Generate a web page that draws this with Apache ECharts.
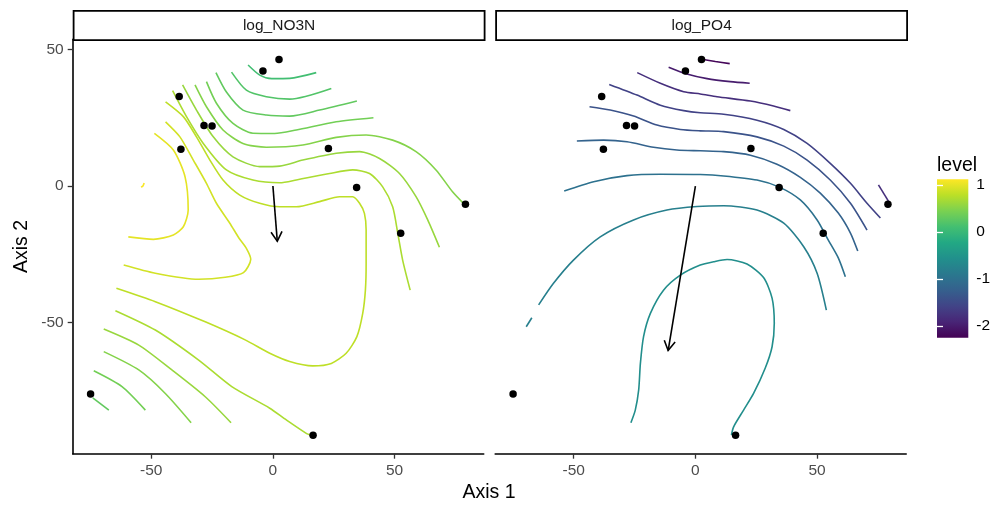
<!DOCTYPE html>
<html><head><meta charset="utf-8">
<script src="https://cdn.jsdelivr.net/npm/echarts@6/dist/echarts.min.js"></script>
<style>html,body{margin:0;padding:0;background:#fff}#c{width:1005px;height:506px}</style>
</head><body><div id="c"></div>
<script>
// ---------- data ----------
const panelNames = ['log_NO3N', 'log_PO4'];
const axisTickValues = [-50, 0, 50];
const levelTickValues = [-2, -1, 0, 1];
const levelRange = [-2.25, 1.12];
const xRange = [-82.25, 86.6];
const yRange = [-97.95, 53.7];

const sitePoints = [[2.5,46.3],[-4.1,42.1],[-38.5,32.8],[-28.3,22.2],[-25.0,22.0],[-37.8,13.5],
  [22.8,13.7],[34.4,-0.5],[79.1,-6.7],[52.5,-17.3],[-74.9,-76.1],[16.5,-91.2]];

const arrowNO3N = [0, 0, 1.8, -20.2];
const arrowPO4 = [0, 0, -11.2, -60.2];

// log_NO3N contour lines
const no3nA = [[-10.2,44.3],[-5.4,40.6],[-0.5,39.3],[6.9,39.4],[17.8,41.5]];
const no3nB = [[-17.0,41.7],[-10.9,35.1],[-2.7,32.7],[6.9,31.8],[24.0,35.7]];
const no3nC = [[-23.4,41.5],[-19.1,34.4],[-12.3,27.8],[-2.7,26.0],[6.9,25.6],[19.2,27.8],[34.5,31.1]];
const no3nD = [[-27.3,38.2],[-23.2,30.3],[-16.4,22.9],[-8.2,19.3],[0.7,19.2],[9.6,20.5],[26.0,23.5],[41.3,25.0]];
const no3nE = [[-32.0,37.0],[-27.3,29.0],[-20.5,20.5],[-12.3,15.6],[-2.7,14.2],[12.3,15.0],[26.0,17.8],[38.3,18.7],[49.2,16.8],[58.8,12.6],[67.0,5.9],[73.8,-2.1],[79.0,-7.0]];
const no3nF = [[-37.1,37.0],[-31.4,27.8],[-24.5,18.0],[-16.4,10.7],[-5.4,7.1],[2.8,7.3],[12.3,9.5],[26.0,12.0],[35.6,12.6],[43.8,10.1],[52.0,4.6],[58.8,-3.9],[63.6,-12.4],[68.4,-22.4]];
const no3nG = [[-41.2,34.9],[-35.5,25.4],[-28.6,15.6],[-19.1,5.9],[-8.2,2.2],[2.8,1.2],[9.6,2.2],[23.3,4.6],[32.8,5.9],[39.7,4.6],[45.1,-0.3],[49.2,-7.6],[51.3,-17.3],[53.3,-27.1],[56.4,-38.1]];
const no3nH = [[-44.1,30.8],[-36.8,25.4],[-31.4,18.0],[-25.9,9.5],[-20.5,2.2],[-13.6,-3.3],[-5.4,-6.3],[2.8,-7.6],[9.6,-7.6],[19.2,-5.7],[27.4,-3.9],[32.8,-3.9],[35.6,-6.3],[37.6,-10.0],[38.3,-16.1],[38.3,-28.3],[38.0,-38.1],[36.9,-46.6],[34.5,-55.1],[30.1,-61.2],[24.0,-64.9],[16.4,-65.8],[6.9,-64.2],[-1.3,-61.2],[-11.4,-56.3],[-27.8,-49.7],[-48.3,-42.3],[-64.3,-37.4]];
const no3nI = [[-44.1,23.5],[-38.2,18.0],[-32.7,9.5],[-27.3,1.0],[-23.2,-6.3],[-17.7,-13.6],[-13.9,-19.1],[-10.9,-22.8],[-9.1,-26.8],[-12.1,-31.7],[-19.6,-33.4],[-30.5,-34.1],[-48.3,-31.9],[-61.3,-28.9]];
const no3nJ = [[-48.7,19.3],[-40.9,13.2],[-36.1,3.4],[-34.8,-8.8],[-36.8,-14.9],[-40.9,-17.9],[-49.1,-19.5],[-59.4,-18.6]];
const no3nK = [[-54.2,-0.4],[-53.4,0.0],[-52.9,1.1]];
const no3nL1 = [[-64.7,-45.6],[-48.3,-52.7],[-30.5,-63.7],[-16.9,-73.4],[-1.3,-81.3],[5.5,-85.6],[13.7,-90.5],[16.4,-91.4]];
const no3nL2 = [[-69.5,-52.3],[-55.1,-58.2],[-41.5,-67.3],[-27.8,-77.1],[-17.2,-86.6]];
const no3nL3 = [[-69.5,-60.6],[-55.1,-67.3],[-44.2,-75.9],[-33.6,-86.6]];
const no3nL4 = [[-73.6,-67.6],[-62.0,-73.4],[-52.4,-82.0]];
const no3nL5 = [[-74.0,-77.5],[-67.4,-82.0]];
const no3nLines = [no3nA,no3nB,no3nC,no3nD,no3nE,no3nF,no3nG,no3nH,no3nI,no3nJ,no3nK,no3nL1,no3nL2,no3nL3,no3nL4,no3nL5];
const no3nLevels = [0.1,0.2,0.3,0.4,0.5,0.6,0.7,0.8,0.9,1.0,1.1,0.7,0.6,0.5,0.4,0.3];

// log_PO4 contour lines
const po4P1 = [[2.7,46.4],[8.2,45.6],[14.1,44.8]];
const po4P2 = [[-11.0,43.5],[-3.5,41.0],[4.8,39.3],[14.3,38.2],[22.3,37.6]];
const po4P3 = [[-23.9,41.5],[-14.4,37.6],[-4.8,34.5],[2.0,33.7],[8.9,32.7],[22.6,31.1],[32.1,29.3],[39.0,27.6]];
const po4P0 = [[75.2,0.4],[79.3,-5.5]];
const po4P4 = [[-35.4,37.2],[-24.0,33.3],[-14.4,29.6],[-4.8,27.6],[2.0,26.8],[11.6,26.3],[25.3,24.1],[36.3,20.7],[45.9,15.6],[55.4,8.3],[63.7,1.0],[70.5,-6.3],[76.0,-11.7]];
const po4P5 = [[-43.5,29.0],[-35.0,27.8],[-25.4,25.6],[-15.8,22.3],[-6.2,20.7],[2.0,20.2],[11.6,19.9],[25.3,18.0],[36.3,14.6],[45.9,9.5],[55.4,2.2],[63.7,-6.3],[70.5,-16.1]];
const po4P6 = [[-48.7,16.5],[-37.7,16.8],[-28.1,16.2],[-17.2,14.2],[-7.6,13.2],[2.0,12.9],[11.6,12.6],[22.6,11.3],[33.5,8.0],[43.1,3.2],[51.3,-2.6],[58.7,-9.9],[63.7,-17.2],[66.7,-23.8]];
const po4P7 = [[-53.9,-1.8],[-41.8,1.6],[-28.1,3.8],[-14.4,4.3],[2.0,4.2],[11.6,3.7],[25.3,2.2],[34.5,-0.4],[43.1,-5.1],[50.0,-12.4],[54.6,-19.8],[58.7,-26.3],[61.6,-33.2]];
const po4P8a = [[-69.5,-51.5],[-67.2,-48.2]];
const po4P8 = [[-64.4,-43.5],[-58.3,-35.6],[-50.1,-27.1],[-39.1,-18.6],[-25.4,-12.4],[-11.7,-8.8],[0.7,-7.5],[11.6,-7.2],[25.3,-8.8],[36.3,-13.6],[44.5,-22.2],[50.0,-31.9],[53.8,-45.4]];
const po4P9 = [[-26.5,-86.6],[-24.7,-82.0],[-23.3,-74.6],[-22.6,-64.9],[-21.3,-55.1],[-18.5,-46.6],[-13.1,-38.1],[-6.2,-32.6],[2.0,-28.9],[7.5,-27.7],[13.0,-26.9],[21.2,-28.5],[28.0,-33.5],[31.5,-41.0],[32.4,-50.2],[31.5,-58.8],[28.7,-66.6],[23.9,-75.9],[19.8,-82.0],[15.7,-88.1],[14.8,-91.1]];
const po4Lines = [po4P1,po4P2,po4P3,po4P0,po4P4,po4P5,po4P6,po4P7,po4P8a,po4P8,po4P9];
const po4Levels = [-2.2,-2.0,-1.8,-1.8,-1.6,-1.4,-1.2,-1.0,-0.8,-0.8,-0.6];

// ---------- styling helpers ----------
const viridisStops = ['#440154','#482576','#414487','#35608d','#2a788e','#21908c','#22a884','#43bf71','#7ad151','#bbdf27','#fde725'];
function hex2rgb(h){return [parseInt(h.slice(1,3),16),parseInt(h.slice(3,5),16),parseInt(h.slice(5,7),16)];}
function viridis(t){
  t = Math.max(0, Math.min(1, t));
  const s = t*(viridisStops.length-1), i = Math.min(Math.floor(s), viridisStops.length-2), f = s-i;
  const a = hex2rgb(viridisStops[i]), b = hex2rgb(viridisStops[i+1]);
  return 'rgb(' + a.map((v,k)=>Math.round(v+(b[k]-v)*f)).join(',') + ')';
}
function levelColor(l){ return viridis((l-levelRange[0])/(levelRange[1]-levelRange[0])); }

const FONT = '"Liberation Sans", Arial, Helvetica, sans-serif';
const panelW = 411, panelTop = 39.3, panelH = 414.4;
const panelLeft = [72.7, 495.2];

function contourSeries(lines, levels, idx){
  return lines.map((pts, k) => ({
    type: 'line', xAxisIndex: idx, yAxisIndex: idx, data: pts,
    showSymbol: false, symbol: 'none', smooth: 0.25, silent: true, z: 2,
    lineStyle: {color: levelColor(levels[k]), width: 1.6}
  }));
}

function renderArrow(params, api){
  const p0 = api.coord([api.value(0), api.value(1)]);
  const p1 = api.coord([api.value(2), api.value(3)]);
  const ang = Math.atan2(p1[1]-p0[1], p1[0]-p0[0]);
  const L = 11, a = Math.PI/6;
  const w1 = [p1[0]-L*Math.cos(ang-a), p1[1]-L*Math.sin(ang-a)];
  const w2 = [p1[0]-L*Math.cos(ang+a), p1[1]-L*Math.sin(ang+a)];
  return {type:'group', children:[
    {type:'polyline', shape:{points:[p0,p1]}, style:{stroke:'#000', lineWidth:1.6, fill:null}},
    {type:'polyline', shape:{points:[w1,p1,w2]}, style:{stroke:'#000', lineWidth:1.6, fill:null}}
  ]};
}

const chart = echarts.init(document.getElementById('c'), null, {renderer:'canvas'});

const gradStops = [];
for (let i=0;i<=20;i++){ gradStops.push({offset: i/20, color: viridis(1 - i/20)}); }

const xAxisBase = (gi) => ({
  type:'value', gridIndex: gi, min: xRange[0], max: xRange[1],
  axisLine:{show:true, onZero:false, lineStyle:{color:'#000', width:1.6}},
  axisTick:{show:true, length:5, customValues: axisTickValues, lineStyle:{color:'#333', width:1.3}},
  axisLabel:{customValues: axisTickValues, margin:9, color:'#4d4d4d', fontSize:15.5, fontFamily: FONT},
  splitLine:{show:false}
});

const option = {
  animation: false,
  backgroundColor: '#fff',
  grid: [
    {left: panelLeft[0], top: panelTop, width: panelW, height: panelH},
    {left: panelLeft[1], top: panelTop, width: panelW, height: panelH},
    {left: 937, top: 179.3, width: 31.3, height: 158.4, show: true, borderWidth: 0,
     backgroundColor: new echarts.graphic.LinearGradient(0,0,0,1, gradStops)}
  ],
  xAxis: [ xAxisBase(0), xAxisBase(1),
    {type:'value', gridIndex:2, min:0, max:1, show:false}
  ],
  yAxis: [
    {type:'value', gridIndex:0, min:yRange[0], max:yRange[1],
     axisLine:{show:true, onZero:false, lineStyle:{color:'#000', width:1.6}},
     axisTick:{show:true, length:5, customValues: axisTickValues, lineStyle:{color:'#333', width:1.3}},
     axisLabel:{customValues: axisTickValues, margin:9, color:'#4d4d4d', fontSize:15.5, fontFamily: FONT},
     splitLine:{show:false}},
    {type:'value', gridIndex:1, min:yRange[0], max:yRange[1], show:false},
    {type:'value', gridIndex:2, min:levelRange[0], max:levelRange[1], position:'right',
     axisLine:{show:false},
     axisTick:{show:true, inside:true, length:6, customValues: levelTickValues, lineStyle:{color:'#fff', width:1.3}},
     axisLabel:{customValues: levelTickValues, margin:8, color:'#000', fontSize:15.5, fontFamily: FONT},
     splitLine:{show:false}},
    {type:'value', gridIndex:2, min:levelRange[0], max:levelRange[1], position:'left',
     axisLine:{show:false},
     axisTick:{show:true, inside:true, length:6, customValues: levelTickValues, lineStyle:{color:'#fff', width:1.3}},
     axisLabel:{show:false}, splitLine:{show:false}}
  ],
  series: [
    ...contourSeries(no3nLines, no3nLevels, 0),
    ...contourSeries(po4Lines, po4Levels, 1),
    {type:'custom', xAxisIndex:0, yAxisIndex:0, renderItem: renderArrow, data:[arrowNO3N], silent:true, z:3,
     encode:{x:[0,2], y:[1,3]}},
    {type:'custom', xAxisIndex:1, yAxisIndex:1, renderItem: renderArrow, data:[arrowPO4], silent:true, z:3,
     encode:{x:[0,2], y:[1,3]}},
    {type:'scatter', xAxisIndex:0, yAxisIndex:0, data: sitePoints, symbolSize:7.5, itemStyle:{color:'#000', opacity:1}, silent:true, z:4},
    {type:'scatter', xAxisIndex:1, yAxisIndex:1, data: sitePoints, symbolSize:7.5, itemStyle:{color:'#000', opacity:1}, silent:true, z:4}
  ],
  graphic: [
    ...panelNames.map((name, i) => ({
      type:'group', left: panelLeft[i], top: 10,
      children:[
        {type:'rect', shape:{x:0, y:0, width: panelW, height: 29.3}, style:{fill:'#fff', stroke:'#000', lineWidth:1.8}},
        {type:'text', x: panelW/2, y: 14.8, style:{text: name, fill:'#1a1a1a', font: '15.5px ' + FONT, align:'center', verticalAlign:'middle'}}
      ]
    })),
    {type:'text', x: 489, y: 493, style:{text:'Axis 1', fill:'#000', font:'19.5px ' + FONT, align:'center', verticalAlign:'middle'}},
    {type:'text', x: 22, y: 246.5, rotation: Math.PI/2, style:{text:'Axis 2', fill:'#000', font:'19.5px ' + FONT, align:'center', verticalAlign:'middle'}},
    {type:'text', x: 937, y: 166, style:{text:'level', fill:'#000', font:'19.5px ' + FONT, align:'left', verticalAlign:'middle'}}
  ]
};
chart.setOption(option);
</script>
</body></html>
